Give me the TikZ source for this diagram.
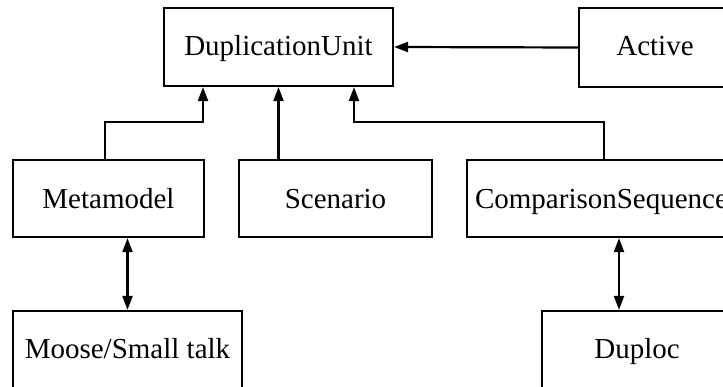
\documentclass[tikz,border=0pt]{standalone}
\usepackage{fontspec}
\setmainfont{Liberation Serif}
\usetikzlibrary{arrows.meta}
\begin{document}
\begin{tikzpicture}[x=1pt,y=-1pt,
  box/.style={draw, line width=2.2pt, inner sep=0pt, rectangle},
  lbl/.style={anchor=base, inner sep=0pt, font=\fontsize{29}{34}\selectfont},
  link/.style={line width=2.2pt},
  tip/.style={},
  arr/.style={link, -{Triangle[length=14pt,width=10pt]}},
  dbl/.style={link, {Triangle[length=14pt,width=10pt]}-{Triangle[length=14pt,width=10pt]}}]
\useasboundingbox (0,0) rectangle (723,387);
\clip (0,0) rectangle (723,387);

% top row
\node[box, minimum width=229pt, minimum height=78pt] (du) at (278.5,47) {};
\node[lbl] (dut) at (278.5,56) {DuplicationUnit};
\node[box, minimum width=152pt, minimum height=79pt] (act) at (655,47.5) {};
\node[lbl] (actt) at (655,56) {Active};

% middle row
\node[box, minimum width=191pt, minimum height=77pt] (meta) at (108.5,198.5) {};
\node[lbl] (metat) at (108.5,209) {Metamodel};
\node[box, minimum width=193pt, minimum height=77pt] (scen) at (335.5,198.5) {};
\node[lbl] (scent) at (335.5,209) {Scenario};
\node[box, minimum width=269pt, minimum height=77pt] (cmp) at (601.5,198.5) {};
\node[lbl] (cmpt) at (601.5,209) {ComparisonSequence};

% bottom row (boxes run past the lower edge)
\node[box, minimum width=229pt, minimum height=120pt] (moose) at (127.5,371) {};
\node[lbl] (mooset) at (127.5,359) {Moose/Small talk};
\node[box, minimum width=190pt, minimum height=120pt] (dup) at (637,371) {};
\node[lbl] (dupt) at (637,359) {Duploc};

% inheritance links into DuplicationUnit
\draw[arr] ([xshift=-3.5pt]meta.north) -- ++(0,-37) -| ([xshift=-75.5pt]du.south);
\draw[arr] (scen.north -| du.south) -- (du.south);
\draw[arr] ([xshift=2.5pt]cmp.north) -- ++(0,-37) -| ([xshift=75.5pt]du.south);
\draw[arr] (act.west) -- (du.east);

% two-way links to the tools
\draw[dbl] (meta.south -| moose.north) -- (moose.north);
\draw[dbl] ([xshift=17.5pt]cmp.south) -- ([xshift=-18pt]dup.north);
\end{tikzpicture}
\end{document}
